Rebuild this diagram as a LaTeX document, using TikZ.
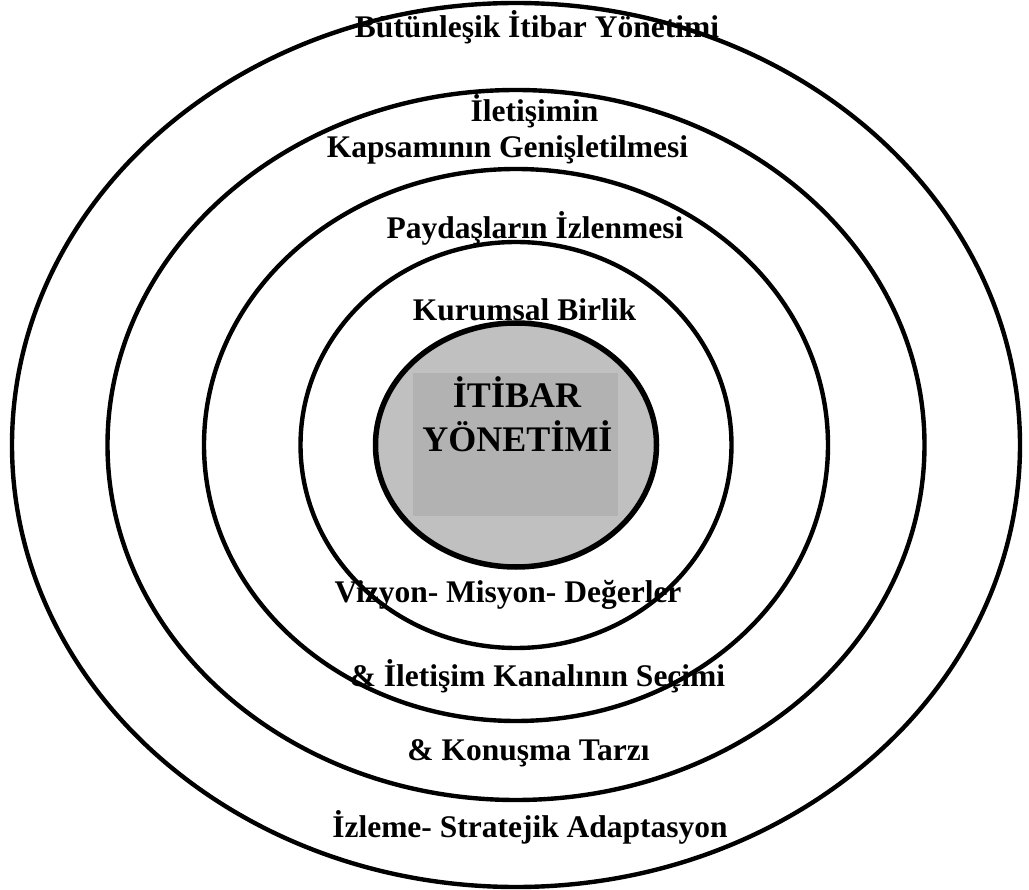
\documentclass[tikz,border=0pt]{standalone}
\usepackage{fontspec}
\setmainfont{Liberation Serif}
\definecolor{corefill}{RGB}{192,192,192}
\definecolor{boxfill}{RGB}{178,178,178}
\begin{document}
\begin{tikzpicture}[x=1pt,y=-1pt,
  ring/.style={draw=black,line width=4.4pt},
  lbl/.style={anchor=base,inner sep=0pt,font=\bfseries\fontsize{31.5}{36}\selectfont},
  corelbl/.style={anchor=base,inner sep=0pt,font=\bfseries\fontsize{36}{44}\selectfont}]
  \useasboundingbox (0,0) rectangle (1029,890);
  \coordinate (c) at (516,445);
  % concentric rings
  \draw[ring] (c) ellipse [x radius=504pt, y radius=442pt];
  \draw[ring] (c) ellipse [x radius=408.5pt, y radius=355pt];
  \draw[ring] (c) ellipse [x radius=312pt, y radius=276pt];
  \draw[ring] (c) ellipse [x radius=215.5pt, y radius=203pt];
  % core
  \draw[line width=5.5pt,fill=corefill] (c) ellipse [x radius=140.5pt, y radius=122pt];
  \fill[boxfill] (413,373) rectangle (618,516);
  \node[corelbl] (core1) at (517,408) {İTİBAR};
  \node[corelbl] (core2) at (517.5,452) {YÖNETİMİ};
  % ring labels
  \node[lbl] (t1) at (537,38) {Bütünleşik İtibar Yönetimi};
  \node[lbl] (t2) at (534.5,122) {İletişimin};
  \node[lbl] (t3) at (507.5,158) {Kapsamının Genişletilmesi};
  \node[lbl] (t4) at (535,239) {Paydaşların İzlenmesi};
  \node[lbl] (t5) at (524.5,321) {Kurumsal Birlik};
  \node[lbl] (t6) at (508,602) {Vizyon- Misyon- Değerler};
  \node[lbl] (t7) at (537.5,686) {\& İletişim Kanalının Seçimi};
  \node[lbl] (t8) at (528.5,760) {\& Konuşma Tarzı};
  \node[lbl] (t9) at (530,837) {İzleme- Stratejik Adaptasyon};
\end{tikzpicture}
\end{document}
